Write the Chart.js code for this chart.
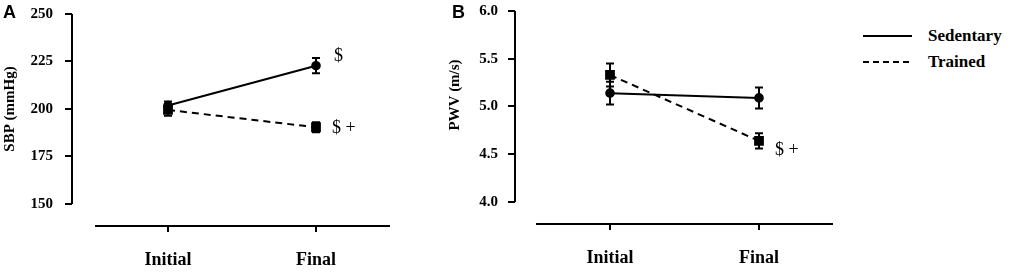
<!DOCTYPE html>
<html>
<head>
<meta charset="utf-8">
<script src="https://cdn.jsdelivr.net/npm/chart.js@4.4.0/dist/chart.umd.min.js"></script>
<style>
  body { margin: 0; background: #fff; }
  .wrap { position: relative; width: 1017px; height: 273px; overflow: hidden; }
  canvas { position: absolute; top: 0; }
  #chartA { left: 0; }
  #chartB { left: 430px; }
  .legend { position: absolute; left: 863px; top: 23px; font: bold 17px 'Liberation Serif', 'Times New Roman', serif; color: #000; }
  .legend .row { display: flex; align-items: center; height: 26px; }
  .legend svg { margin-right: 16px; }
</style>
</head>
<body>
<div class="wrap">
  <canvas id="chartA" width="430" height="273"></canvas>
  <canvas id="chartB" width="430" height="273"></canvas>
  <div class="legend">
    <div class="row"><svg width="49" height="4"><line x1="0" y1="2" x2="49" y2="2" stroke="#000" stroke-width="2"/></svg>Sedentary</div>
    <div class="row"><svg width="49" height="4"><line x1="0" y1="2" x2="49" y2="2" stroke="#000" stroke-width="2" stroke-dasharray="6 4"/></svg>Trained</div>
  </div>
</div>
<script>
// data
const categories = ['Initial', 'Final'];
const seriesNames = ['Sedentary', 'Trained'];

const sbpSedentary = [201.8, 222.8];
const sbpSedentaryErr = [2.2, 4.0];
const sbpTrained = [199.5, 190.4];
const sbpTrainedErr = [3.0, 2.6];
const sbpTicks = [150, 175, 200, 225, 250];

const pwvSedentary = [5.14, 5.09];
const pwvSedentaryErr = [0.12, 0.11];
const pwvTrained = [5.33, 4.64];
const pwvTrainedErr = [0.12, 0.08];
const pwvTicks = [4.0, 4.5, 5.0, 5.5, 6.0];

// significance marks: [series, category index, text]
const sbpMarks = [[0, 1, '$'], [1, 1, '$ +']];
const pwvMarks = [[1, 1, '$ +']];

const serif = "'Liberation Serif', 'Times New Roman', serif";

const panelDecor = {
  id: 'panelDecor',
  beforeDatasetsDraw(chart, args, opts) {
    const { ctx, chartArea } = chart;
    const x = chart.scales.x;
    const y = chart.scales.y;
    ctx.save();
    ctx.strokeStyle = '#000';
    ctx.lineWidth = 2;
    ctx.beginPath();
    // detached y axis
    ctx.moveTo(chartArea.left, y.getPixelForValue(opts.ticks[0]));
    ctx.lineTo(chartArea.left, y.getPixelForValue(opts.ticks[opts.ticks.length - 1]));
    // detached x axis
    ctx.moveTo(x.getPixelForValue(opts.xFrom), chartArea.bottom);
    ctx.lineTo(chartArea.right, chartArea.bottom);
    ctx.stroke();

    ctx.fillStyle = '#000';
    ctx.font = "bold 18px 'Liberation Sans', Arial, sans-serif";
    ctx.textAlign = 'left';
    ctx.textBaseline = 'top';
    ctx.fillText(opts.letter, opts.letterX, 4);

    ctx.translate(opts.titleX, opts.titleY);
    ctx.rotate(-Math.PI / 2);
    ctx.font = 'bold 15px ' + serif;
    ctx.textAlign = 'center';
    ctx.textBaseline = 'middle';
    ctx.fillText(opts.title, 0, 0);
    ctx.restore();
  },
  afterDatasetsDraw(chart, args, opts) {
    const ctx = chart.ctx;
    const y = chart.scales.y;
    ctx.save();
    ctx.strokeStyle = '#000';
    ctx.lineWidth = 2;
    chart.data.datasets.forEach((ds, di) => {
      const meta = chart.getDatasetMeta(di);
      ds.errors.forEach((e, i) => {
        const px = meta.data[i].x;
        const v = ds.data[i].y;
        const top = y.getPixelForValue(v + e);
        const bot = y.getPixelForValue(v - e);
        ctx.beginPath();
        ctx.moveTo(px, top); ctx.lineTo(px, bot);
        ctx.moveTo(px - 4, top); ctx.lineTo(px + 4, top);
        ctx.moveTo(px - 4, bot); ctx.lineTo(px + 4, bot);
        ctx.stroke();
      });
    });
    ctx.fillStyle = '#000';
    ctx.font = '18px ' + serif;
    ctx.textAlign = 'left';
    ctx.textBaseline = 'middle';
    opts.marks.forEach(([s, i, text], k) => {
      const pt = chart.getDatasetMeta(s).data[i];
      const off = opts.markOffsets[k];
      ctx.fillText(text, pt.x + off[0], pt.y + off[1]);
    });
    ctx.restore();
  }
};

const makePanel = (id, sed, sedErr, tr, trErr, ticks, fmt, p) => {
  const ctx = document.getElementById(id).getContext('2d');
  return new Chart(ctx, {
    type: 'line',
    data: {
      datasets: [
        {
          label: seriesNames[0],
          data: sed.map((v, i) => ({ x: i, y: v })),
          errors: sedErr,
          borderColor: '#000',
          backgroundColor: '#000',
          borderWidth: 2,
          pointStyle: 'circle',
          pointRadius: 3.8
        },
        {
          label: seriesNames[1],
          data: tr.map((v, i) => ({ x: i, y: v })),
          errors: trErr,
          borderColor: '#000',
          backgroundColor: '#000',
          borderWidth: 2,
          borderDash: [7, 5],
          pointStyle: 'rect',
          pointRadius: 5.5
        }
      ]
    },
    options: {
      responsive: false,
      animation: false,
      devicePixelRatio: 1,
      layout: { padding: { top: p.top, right: p.right, bottom: 0, left: 0 } },
      plugins: {
        legend: { display: false },
        tooltip: { enabled: false },
        panelDecor: p.decor
      },
      scales: {
        x: {
          type: 'linear',
          min: p.xMin,
          max: p.xMax,
          afterBuildTicks: (scale) => { scale.ticks = categories.map((c, i) => ({ value: i })); },
          afterFit: (scale) => {
            scale.height = p.xHeight;
            scale.paddingLeft = 0;
            scale.paddingRight = 0;
          },
          border: { display: false },
          grid: { display: true, drawOnChartArea: false, drawTicks: true, tickLength: 6, lineWidth: 2, color: '#000' },
          ticks: {
            autoSkip: false,
            maxRotation: 0,
            padding: 18,
            color: '#000',
            font: { family: serif, weight: 'bold', size: 18 },
            callback: (v) => categories[v]
          }
        },
        y: {
          min: p.yMin,
          max: ticks[ticks.length - 1],
          afterBuildTicks: (scale) => { scale.ticks = ticks.map((t) => ({ value: t })); },
          afterFit: (scale) => {
            scale.width = p.yWidth;
            scale.paddingTop = 0;
            scale.paddingBottom = 0;
          },
          border: { display: false },
          grid: { display: true, drawOnChartArea: false, drawTicks: true, tickLength: 7, lineWidth: 2, color: '#000' },
          ticks: {
            padding: p.yPad,
            color: '#000',
            font: { family: serif, weight: 'bold', size: 15 },
            callback: fmt
          }
        }
      }
    },
    plugins: [panelDecor]
  });
};

makePanel('chartA', sbpSedentary, sbpSedentaryErr, sbpTrained, sbpTrainedErr, sbpTicks, (v) => v, {
  top: 14, right: 40, xHeight: 47, yWidth: 72, yPad: 12,
  xMin: -0.6486, xMax: 1.5, yMin: 138.42,
  decor: {
    ticks: sbpTicks, xFrom: -0.493, letter: 'A', letterX: 3,
    title: 'SBP (mmHg)', titleX: 10, titleY: 109,
    marks: sbpMarks, markOffsets: [[18, -9], [16, 1]]
  }
});

makePanel('chartB', pwvSedentary, pwvSedentaryErr, pwvTrained, pwvTrainedErr, pwvTicks, (v) => v.toFixed(1), {
  top: 11, right: 27, xHeight: 49, yWidth: 85, yPad: 10,
  xMin: -0.6376, xMax: 1.4966, yMin: 3.7696,
  decor: {
    ticks: pwvTicks, xFrom: -0.4966, letter: 'B', letterX: 22,
    title: 'PWV (m/s)', titleX: 25, titleY: 95,
    marks: pwvMarks, markOffsets: [[16, 9]]
  }
});
</script>
</body>
</html>
